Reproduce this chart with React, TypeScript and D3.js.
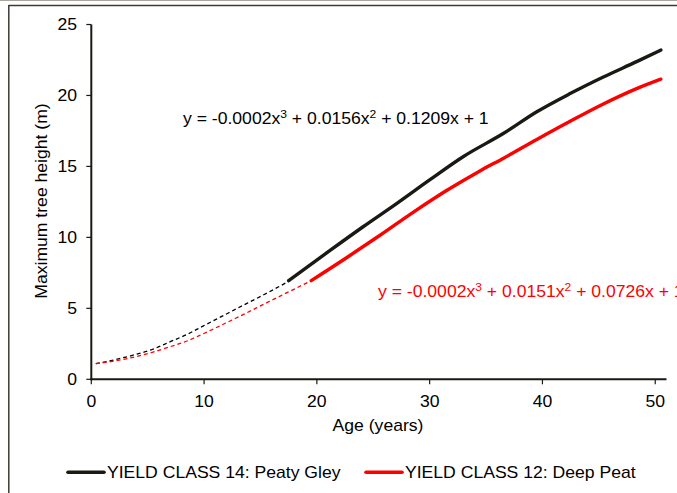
import React, { useRef, useEffect } from 'react';
import * as d3 from 'd3';

// Yield class 14 (Peaty Gley), measured heights
const ageYC14 = [17.5, 21.2, 24.1, 27.1, 30.0, 33.0, 36.6, 39.5, 42.5, 45.4, 48.4, 50.5];
const heightYC14 = [6.95, 9.1, 10.75, 12.4, 14.05, 15.7, 17.35, 18.85, 20.15, 21.3, 22.4, 23.2];
// Yield class 12 (Deep Peat), measured heights
const ageYC12 = [19.5, 22.7, 25.6, 28.6, 31.5, 34.5, 36.6, 39.5, 42.5, 45.4, 48.4, 50.5];
const heightYC12 = [6.95, 8.6, 10.15, 11.8, 13.3, 14.7, 15.6, 16.9, 18.2, 19.4, 20.5, 21.15];
// dashed trendline back-extensions
const trendAge14 = [0.4, 2.2, 3.7, 5.4, 7.0, 8.5, 9.9, 11.1, 12.8, 15.7, 17.5];
const trendHeight14 = [1.1, 1.4, 1.7, 2.1, 2.65, 3.17, 3.75, 4.24, 4.94, 6.13, 6.9];
const trendAge12 = [0.4, 2.2, 3.7, 5.4, 7.0, 8.5, 9.9, 11.1, 12.8, 15.7, 19.5];
const trendHeight12 = [1.1, 1.31, 1.55, 1.9, 2.3, 2.7, 3.2, 3.65, 4.3, 5.45, 6.95];

const xTicks = [0, 10, 20, 30, 40, 50];
const yTicks = [0, 5, 10, 15, 20, 25];

const FONT = '"Liberation Sans", Arial, sans-serif';
const FS = 16;
const STRETCH = 1.1; // text in the picture is a little wider than plain Arial

const App = () => {
  const ref = useRef(null);

  useEffect(() => {
    const width = 677;
    const height = 493;

    const x = d3.scaleLinear().domain([0, 51]).range([91.3, 666.5]);
    const y = d3.scaleLinear().domain([0, 25]).range([379.3, 24.5]);

    const svg = d3.select(ref.current)
      .attr('width', width)
      .attr('height', height)
      .style('font-family', FONT);
    svg.selectAll('*').remove();

    svg.append('rect').attr('width', width).attr('height', height).attr('fill', '#fff');

    const txt = (px: number, py: number, anchor = 'start', rot = 0) =>
      svg.append('g').attr('transform', `translate(${px},${py}) rotate(${rot}) scale(${STRETCH},1)`)
        .append('text').attr('text-anchor', anchor).attr('font-size', FS).attr('fill', '#000');

    // outer frame
    svg.append('line').attr('x1', 0).attr('x2', width).attr('y1', 0.5).attr('y2', 0.5)
      .attr('stroke', '#a8a69e').attr('stroke-width', 1);
    svg.append('line').attr('x1', 8.5).attr('x2', width).attr('y1', 5.5).attr('y2', 5.5)
      .attr('stroke', '#3d3a33').attr('stroke-width', 1.5);
    svg.append('line').attr('x1', 8.8).attr('x2', 8.8).attr('y1', 5).attr('y2', height)
      .attr('stroke', '#3d3a33').attr('stroke-width', 1.5);

    const line = d3.line<[number, number]>().x(d => x(d[0])).y(d => y(d[1])).curve(d3.curveMonotoneX);
    const zip = (a: number[], b: number[]) => a.map((v, i) => [v, b[i]] as [number, number]);

    // trendlines
    svg.append('path').attr('d', line(zip(trendAge14, trendHeight14)))
      .attr('fill', 'none').attr('stroke', '#000').attr('stroke-width', 1.3).attr('stroke-dasharray', '4,3');
    svg.append('path').attr('d', line(zip(trendAge12, trendHeight12)))
      .attr('fill', 'none').attr('stroke', '#ff0000').attr('stroke-width', 1.3).attr('stroke-dasharray', '4,3');

    // measured series
    svg.append('path').attr('d', line(zip(ageYC14, heightYC14)))
      .attr('fill', 'none').attr('stroke', '#1a1a14').attr('stroke-width', 3.4).attr('stroke-linecap', 'round');
    svg.append('path').attr('d', line(zip(ageYC12, heightYC12)))
      .attr('fill', 'none').attr('stroke', '#ff0000').attr('stroke-width', 3.4).attr('stroke-linecap', 'round');

    // axes
    const axisColor = '#1a1a14';
    svg.append('line').attr('x1', x(0)).attr('x2', x(0)).attr('y1', y(25)).attr('y2', y(0) + 1)
      .attr('stroke', axisColor).attr('stroke-width', 2);
    svg.append('line').attr('x1', x(0) - 1).attr('x2', x(51)).attr('y1', y(0)).attr('y2', y(0))
      .attr('stroke', axisColor).attr('stroke-width', 2);

    yTicks.forEach(t => {
      svg.append('line').attr('x1', x(0) - 5).attr('x2', x(0)).attr('y1', y(t)).attr('y2', y(t))
        .attr('stroke', axisColor).attr('stroke-width', 1.2);
      txt(77, y(t) + 5.5, 'end').text(t);
    });
    xTicks.forEach(t => {
      svg.append('line').attr('x1', x(t)).attr('x2', x(t)).attr('y1', y(0)).attr('y2', y(0) + 5)
        .attr('stroke', axisColor).attr('stroke-width', 1.2);
      txt(x(t), 406.5, 'middle').text(t);
    });

    txt(378, 431, 'middle').text('Age (years)');
    txt(47, 201, 'middle', -90).text('Maximum tree height (m)');

    // equations
    const eq = (px: number, py: number, color: string, parts: string[]) => {
      const t = txt(px, py).attr('fill', color);
      t.append('tspan').text(parts[0]);
      t.append('tspan').attr('font-size', 11).attr('dy', -6).text('3');
      t.append('tspan').attr('dy', 6).text(parts[1]);
      t.append('tspan').attr('font-size', 11).attr('dy', -6).text('2');
      t.append('tspan').attr('dy', 6).text(parts[2]);
    };
    eq(183, 124, '#000', ['y = -0.0002x', ' + 0.0156x', ' + 0.1209x + 1']);
    eq(378, 297, '#ff0000', ['y = -0.0002x', ' + 0.0151x', ' + 0.0726x + 1']);

    // legend
    const legend = [
      { label: 'YIELD CLASS 14: Peaty Gley', color: '#1a1a14', x0: 68 },
      { label: 'YIELD CLASS 12: Deep Peat', color: '#ff0000', x0: 366 },
    ];
    legend.forEach(l => {
      svg.append('line').attr('x1', l.x0).attr('x2', l.x0 + 36).attr('y1', 472.3).attr('y2', 472.3)
        .attr('stroke', l.color).attr('stroke-width', 3.6).attr('stroke-linecap', 'round');
      txt(l.x0 + 39, 478.3).text(l.label);
    });
  }, []);

  return <svg ref={ref} style={{ position: 'absolute', left: 0, top: 0, display: 'block' }} />;
};

export default App;
